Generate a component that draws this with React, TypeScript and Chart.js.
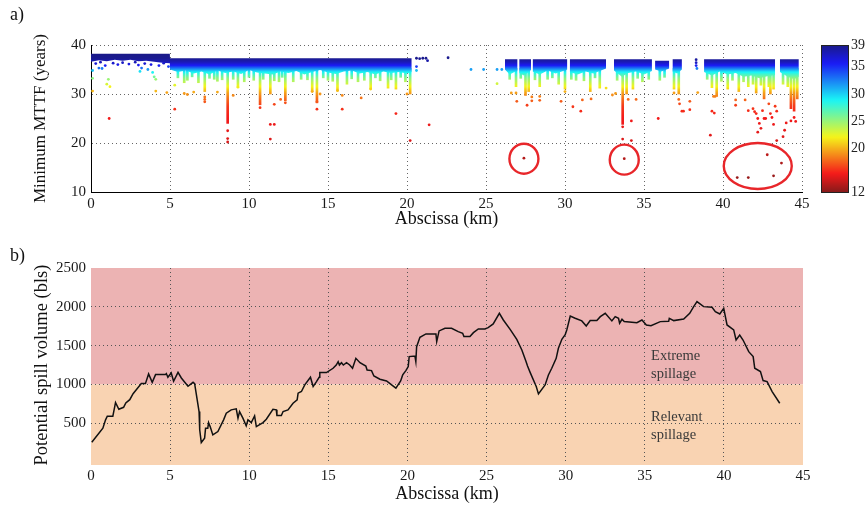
import React, { useEffect, useRef } from 'react';
import { Chart, registerables } from 'chart.js';

Chart.register(...registerables);

const FONT = '"Liberation Serif", "Times New Roman", serif';

// ---------- panel a) : minimum MTTF ----------
const kmTickStep = 5;
const mttfRange = [10, 40];
const colorMin = 12;
const colorMax = 39;
const colorbarTicks = [39, 35, 30, 25, 20, 12];
// colour transfer: MTTF value -> colour-bar value
const mttfAnchors = [38.5, 37.3, 36.5, 35.8, 35.2, 34.6, 34.0, 33.3, 32.5, 31.5, 30.3, 29, 27.5, 25, 21, 17, 12];
const colorAnchors = [39, 38.8, 37.5, 35.5, 32.5, 29.5, 27.5, 25.5, 24.0, 22.1, 19.6, 17.9, 16.3, 15.3, 14.7, 13.4, 12.3];

// dense band of points (upper envelope / lower edge of the dense cloud); null = gap
const bandX = [
  0, 0.5, 1, 1.5, 2, 2.5, 3, 3.5, 4, 4.5, 4.99,
  5, 5.5, 6, 6.5, 7, 7.5, 8, 8.5, 9, 9.5, 10, 10.5, 11, 11.5, 12, 12.5, 13, 13.5, 14, 14.5,
  15, 15.5, 16, 16.5, 17, 17.5, 18, 18.5, 19, 19.5, 20, 20.3, 20.35,
  26.2, 26.5, 26.8, 27.0, 27.05, 27.1, 27.4, 27.7, 27.85, 27.9, 27.95, 28.4, 28.9, 29.4, 29.8, 30.15, 30.2,
  30.3, 30.8, 31.3, 31.8, 32.2, 32.6, 32.8, 33.1, 33.6, 34.0, 34.5, 35.0, 35.5, 35.6,
  35.7, 36.1, 36.6, 36.7, 36.8, 37.1, 37.4, 38.0,
  38.8, 39.3, 39.8, 40.3, 40.8, 41.3, 41.8, 42.3, 42.8, 43.3, 43.45, 43.6, 44.1, 44.5, 44.8,
];
const bandTop = [
  38.2, 38.2, 38.2, 38.2, 38.2, 38.2, 38.2, 38.2, 38.2, 38.2, 38.2,
  37.3, 37.3, 37.3, 37.3, 37.3, 37.3, 37.3, 37.3, 37.3, 37.3, 37.3, 37.3, 37.3, 37.3, 37.3, 37.3, 37.3, 37.3, 37.3, 37.3,
  37.3, 37.3, 37.3, 37.3, 37.3, 37.3, 37.3, 37.3, 37.3, 37.3, 37.3, 37.3, null,
  37.1, 37.1, 37.1, 37.1, null, 37.1, 37.1, 37.1, 37.1, null, 37.1, 37.1, 37.1, 37.1, 37.1, 37.1, null,
  37.1, 37.1, 37.1, 37.1, 37.1, 37.1, null, 37.1, 37.1, 37.1, 37.1, 37.1, 37.1, null,
  36.8, 36.8, 36.8, null, 37.1, 37.1, 37.1, null,
  37.1, 37.1, 37.1, 37.1, 37.1, 37.1, 37.1, 37.1, 37.1, 37.1, null, 37.1, 37.1, 37.1, 37.1,
];
const bandLow = [
  36.6, 36.9, 36.7, 37.0, 36.8, 37.0, 36.7, 36.8, 36.6, 36.4, 36.3,
  35.0, 34.5, 34.8, 34.2, 34.6, 34.0, 34.8, 34.3, 34.6, 34.1, 34.9, 34.4, 34.2, 34.0, 34.6, 34.3, 34.7, 34.0, 34.5, 34.9,
  34.4, 34.1, 34.6, 34.8, 34.2, 34.5, 34.0, 34.6, 34.3, 34.5, 34.2, 34.5, null,
  35.0, 34.0, 34.5, 34.8, null, 34.3, 33.8, 34.5, 34.9, null, 34.6, 34.0, 34.8, 34.2, 34.6, 35.0, null,
  34.5, 34.0, 34.6, 34.2, 34.7, 35.2, null, 34.8, 33.5, 34.3, 34.6, 34.0, 34.7, null,
  35.0, 34.6, 35.2, null, 34.6, 34.2, 35.0, null,
  34.5, 33.8, 34.6, 34.0, 34.3, 33.5, 33.8, 33.2, 33.6, 33.9, null, 34.5, 33.5, 33.0, 33.5,
];

// vertical streaks of points below the dense band (x, lowest value)
const streakTopValue = 35.2;
const streakX = [
  5.9, 6.1, 6.8, 7.2, 7.8, 8.0, 8.65, 9.0, 9.3, 9.7, 10.3, 10.7, 11.35, 11.9, 12.3, 12.8, 13.3, 14.0, 14.3,
  15.0, 15.6, 16.2, 16.9, 17.7, 18.3, 18.8, 19.3, 19.9, 20.2,
  26.5, 26.9, 27.5, 27.7, 28.4, 28.9, 29.6, 30.0, 30.7, 31.6, 32.2, 33.65, 33.9, 34.3, 34.9, 36.0, 36.9, 37.2,
  39.3, 39.6, 40.3, 41.0, 41.6, 42.1, 42.6, 43.0, 44.3, 44.5, 44.7,
  5.5, 6.4, 7.5, 8.3, 10.0, 10.9, 11.6, 12.1, 13.7, 14.7, 15.3, 16.5, 17.3, 18.0, 19.0, 19.6,
  27.2, 28.1, 29.2, 30.4, 31.2, 31.9, 33.3, 34.6, 35.3, 36.3, 39.0, 39.9, 40.6, 41.3, 41.9, 42.4, 42.9, 43.2, 43.8, 44.1,
];
const streakLow = [
  32.3, 32.8, 32.3, 30.5, 33.0, 32.6, 24.0, 33.0, 31.5, 32.5, 32.8, 27.8, 30.0, 32.5, 28.6, 32.5, 33.0, 30.5, 28.2,
  32.8, 30.6, 32.0, 32.5, 31.0, 32.7, 31.2, 31.0, 32.5, 30.0,
  33.0, 31.5, 29.7, 30.5, 31.5, 33.0, 32.0, 31.0, 32.8, 30.5, 31.2, 23.8, 30.0, 31.0, 32.5, 32.8, 31.0, 30.0,
  31.3, 29.5, 31.0, 30.5, 31.5, 30.2, 29.0, 30.0, 27.0, 26.5, 29.0,
  33.3, 33.5, 33.2, 32.9, 33.4, 33.0, 32.7, 33.4, 32.9, 33.3, 32.6, 33.1, 32.8, 33.3, 32.9, 33.4,
  33.2, 32.9, 33.3, 33.0, 32.7, 33.3, 32.8, 33.2, 33.0, 33.4, 33.0, 32.6, 32.8, 32.5, 32.0, 31.8, 31.5, 31.0, 32.0, 31.5,
];

// isolated points
const pointX = [
  0.1, 0.1, 0.1, 0.5, 0.7, 1.0, 1.1, 1.2, 1.15, 3.1, 3.2, 3.6, 3.9, 4.0, 4.1, 4.1, 4.8,
  0.3, 0.6, 0.9, 1.4, 1.7, 2.0, 2.4, 2.8, 3.0, 3.4, 3.8, 4.3, 4.6, 4.9,
  5.3, 5.3, 5.9, 6.1, 6.5, 7.2, 7.2, 7.2, 8.0, 8.65, 8.65, 8.65, 9.0, 9.3, 10.7, 11.35, 11.6, 11.35, 11.6, 12.0, 12.3,
  14.0, 14.3, 14.3, 14.5, 15.6, 15.9, 15.9, 17.1, 17.7, 19.3, 20.0, 20.2,
  20.6, 20.8, 21.0, 21.2, 21.3, 20.6, 20.6, 21.4, 22.6, 24.05, 24.85, 25.7, 25.7, 26.0,
  26.6, 26.9, 26.95, 27.6, 27.9, 27.9, 28.4, 28.4, 29.75, 30.0, 30.5, 31.0, 31.1, 31.65, 32.6, 33.0, 33.2,
  33.65, 34.2, 34.2, 33.65, 27.4, 33.75,
  34.0, 34.5, 35.9, 36.9, 37.2, 37.25, 37.4, 37.5, 37.9, 37.9, 38.3, 38.3, 38.3, 38.35, 38.4,
  39.2, 39.3, 39.45, 39.4, 39.5, 40.8, 40.8, 41.4, 41.6, 41.9, 42.0, 42.1, 42.2, 42.3, 42.4, 42.2,
  42.5, 42.6, 42.7, 42.9, 43.0, 43.1, 43.2, 43.3, 43.4, 43.4, 43.8, 43.9, 44.0, 44.3, 44.5, 44.6,
  40.9, 41.6, 42.8, 43.2, 43.7,
];
const pointY = [
  34.8, 33.2, 30.6, 35.3, 35.2, 32.0, 33.0, 31.5, 25.0, 34.6, 35.3, 35.0, 34.4, 33.5, 33.0, 30.6, 30.3,
  36.2, 36.5, 35.8, 36.3, 36.0, 36.4, 36.1, 36.5, 35.9, 36.2, 36.0, 35.8, 36.3, 35.6,
  31.8, 26.9, 30.1, 29.9, 30.4, 29.4, 28.9, 28.4, 30.4, 22.5, 20.9, 20.2, 29.7, 31.4, 27.2, 23.8, 23.8, 20.8, 27.9, 28.9, 28.2,
  30.5, 28.4, 26.9, 30.0, 30.7, 29.7, 26.9, 29.2, 31.0, 26.0, 30.0, 20.5,
  37.3, 37.2, 37.3, 37.3, 36.8, 35.6, 34.8, 23.7, 37.4, 35.0, 35.0, 35.0, 32.1, 35.0,
  30.2, 30.2, 28.5, 27.7, 29.4, 28.6, 29.5, 28.7, 28.5, 30.5, 27.4, 26.5, 28.8, 29.0, 31.2, 29.8, 30.1,
  20.8, 20.5, 24.5, 23.3, 16.9, 16.8,
  28.9, 28.9, 25.0, 30.2, 28.9, 28.0, 26.5, 26.5, 28.5, 26.8, 37.0, 36.4, 35.8, 35.2, 30.3,
  21.6, 26.5, 26.1, 29.5, 29.5, 28.8, 27.7, 28.8, 26.6, 27.0, 26.4, 26.0, 25.0, 24.0, 23.0, 22.2,
  26.6, 25.0, 25.0, 28.0, 26.0, 25.2, 23.8, 27.5, 26.5, 20.5, 21.3, 22.6, 24.1, 24.5, 25.2, 24.4,
  12.95, 12.95, 17.6, 13.3, 15.9,
];

// highlighted outliers (data coords)
const circleX = [27.4, 33.75, 42.2];
const circleY = [16.8, 16.6, 15.3];
const circleRadiiPx = [[14.5, 15], [14.5, 15], [34, 23]];

// ---------- panel b) : potential spill volume ----------
const spillX = [
  0.05, 0.75, 0.92, 1.03, 1.38, 1.5, 1.55, 1.76, 2.06, 2.2, 2.45, 2.66, 3.18, 3.44, 3.64, 3.87, 4.08, 4.7, 4.76, 4.86,
  5.07, 5.22, 5.5, 5.71, 6.13, 6.45, 6.55, 6.83, 6.87, 6.97, 7.18, 7.24, 7.38, 7.43, 7.53, 7.7, 8.02, 8.38, 8.55, 8.86,
  9.18, 9.29, 9.39, 9.6, 9.81, 9.92, 10.13, 10.34, 10.45, 10.87, 11.08, 11.5, 11.71, 11.75, 12.03, 12.14, 12.45, 12.77,
  13.03, 13.09, 13.3, 13.51, 13.87, 14.04, 14.25, 14.42, 14.46, 14.88, 15.3, 15.5, 15.62, 15.7, 15.83, 15.95, 16.15,
  16.35, 16.53, 16.74, 17.0, 17.37, 17.45, 17.73, 17.88, 18.26, 18.68, 19.0, 19.27, 19.57, 19.7, 19.9, 20.05, 20.11,
  20.47, 20.53, 20.58, 20.79, 21.17, 21.8, 21.85, 22.0, 22.37, 22.79, 23.21, 23.49, 23.57, 23.95, 24.17, 24.48, 24.9,
  25.1, 25.42, 25.81, 26.06, 26.49, 26.91, 27.23, 27.5, 27.59, 27.76, 28.14, 28.28, 28.7, 28.91, 29.12, 29.4, 29.54,
  29.76, 29.97, 30.07, 30.29, 30.6, 31.02, 31.3, 31.55, 31.97, 32.19, 32.5, 32.92, 33.13, 33.34, 33.41, 33.56, 33.7,
  34.5, 34.82, 35.1, 35.39, 35.98, 36.51, 36.55, 36.83, 37.46, 37.84, 38.09, 38.3, 38.72, 39.25, 39.46, 39.74, 39.99,
  40.2, 40.62, 40.77, 41.0, 41.21, 41.57, 41.85, 41.95, 42.31, 42.48, 42.73, 43.05, 43.53,
];
const spillY = [
  255, 435, 543, 590, 590, 714, 767, 680, 705, 760, 803, 880, 1010, 1010, 1135, 1027, 1126, 1126, 1140, 1092,
  1147, 1040, 1155, 1083, 976, 1027, 1010, 650, 415, 251, 307, 435, 435, 508, 456, 349, 392, 543, 629, 672,
  685, 565, 650, 565, 466, 543, 508, 594, 456, 508, 551, 680, 672, 599, 599, 650, 672, 757,
  800, 887, 908, 994, 1092, 972, 1036, 1092, 1152, 1152, 1208, 1250, 1293, 1250, 1280, 1250, 1280,
  1250, 1208, 1336, 1280, 1237, 1186, 1178, 1109, 1066, 1045, 994, 951, 1045, 1122, 1178, 1229, 1358,
  1366, 1293, 1486, 1607, 1650, 1650, 1551, 1689, 1723, 1723, 1680, 1659, 1616, 1616, 1667, 1714, 1714,
  1732, 1779, 1916, 1830, 1710, 1581, 1443, 1293, 1237, 1152, 972, 878, 994, 1122, 1208, 1336, 1465,
  1581, 1640, 1702, 1882, 1852, 1818, 1753, 1822, 1822, 1873, 1916, 1818, 1873, 1852, 1788, 1839, 1809,
  1796, 1830, 1766, 1757, 1809, 1813, 1852, 1822, 1843, 1916, 2002, 2066, 2002, 1993, 1938, 1908, 1981,
  1766, 1702, 1572, 1637, 1572, 1422, 1358, 1208, 1165, 1049, 1036, 908, 757,
];
const spillRange = [0, 2500];
const spillTickStep = 500;
const spillThreshold = 1000;
const zoneLabelLines = [['Extreme', 'spillage'], ['Relevant', 'spillage']];
const zoneLabelX = 35.4;
const zoneLabelY = [1367, 581];

// ---------- helpers ----------
function jetOfColorValue(c: number): string {
  const u = Math.min(1, Math.max(0, (colorMax - c) / (colorMax - colorMin)));
  const f = (t: number) => Math.min(1, Math.max(0, 1.5 - Math.abs(4 * u - t)));
  const k = [f(3), f(2), f(1)].map((q) => Math.round(q * 255 * 0.86 + 26));
  return `rgb(${k[0]},${k[1]},${k[2]})`;
}

function mttfToColorValue(v: number): number {
  if (v >= mttfAnchors[0]) return colorAnchors[0];
  for (let i = 1; i < mttfAnchors.length; i++) {
    if (v >= mttfAnchors[i]) {
      const t = (v - mttfAnchors[i]) / (mttfAnchors[i - 1] - mttfAnchors[i]);
      return colorAnchors[i] + t * (colorAnchors[i - 1] - colorAnchors[i]);
    }
  }
  return colorAnchors[colorAnchors.length - 1];
}

function mttfColor(v: number): string {
  return jetOfColorValue(mttfToColorValue(v));
}

function mttfGradient(chart: any): any {
  const ys = chart.scales && chart.scales.y;
  if (!chart.chartArea || !ys) return mttfColor(36);
  const hi = mttfRange[1];
  const lo = mttfRange[0];
  const p0 = ys.getPixelForValue(hi);
  const p1 = ys.getPixelForValue(lo);
  if (!isFinite(p0) || !isFinite(p1) || p0 === p1) return mttfColor(36);
  const g = chart.ctx.createLinearGradient(0, p0, 0, p1);
  const n = 150;
  for (let i = 0; i <= n; i++) {
    const v = hi - (i / n) * (hi - lo);
    g.addColorStop(i / n, mttfColor(v));
  }
  return g;
}

const tickFont = { family: FONT, size: 15 };
const gridDots = [1, 3];

const colorbarPlugin = {
  id: 'colorbar',
  afterDraw(chart: any) {
    const { ctx, chartArea } = chart;
    const x0 = chartArea.right + 19;
    const w = 27;
    const top = chartArea.top;
    const bottom = chartArea.bottom;
    ctx.save();
    const g = ctx.createLinearGradient(0, top, 0, bottom);
    const n = 54;
    for (let i = 0; i <= n; i++) {
      g.addColorStop(i / n, jetOfColorValue(colorMax - (i / n) * (colorMax - colorMin)));
    }
    ctx.fillStyle = g;
    ctx.fillRect(x0, top, w, bottom - top);
    ctx.strokeStyle = '#222';
    ctx.lineWidth = 1;
    ctx.strokeRect(x0 + 0.5, top + 0.5, w, bottom - top);
    ctx.fillStyle = '#222';
    ctx.font = `14px ${FONT}`;
    ctx.textAlign = 'left';
    ctx.textBaseline = 'middle';
    colorbarTicks.forEach((v) => {
      const y = top + ((colorMax - v) / (colorMax - colorMin)) * (bottom - top);
      ctx.fillText(String(v), x0 + w + 3, y);
    });
    ctx.restore();
  },
};

const circlesPlugin = {
  id: 'circles',
  afterDatasetsDraw(chart: any) {
    const { ctx, scales } = chart;
    ctx.save();
    ctx.strokeStyle = '#e8262a';
    ctx.lineWidth = 2.4;
    circleX.forEach((x, i) => {
      ctx.beginPath();
      ctx.ellipse(
        scales.x.getPixelForValue(x),
        scales.y.getPixelForValue(circleY[i]),
        circleRadiiPx[i][0],
        circleRadiiPx[i][1],
        0, 0, Math.PI * 2,
      );
      ctx.stroke();
    });
    ctx.restore();
  },
};

const zonesPlugin = {
  id: 'zones',
  beforeDraw(chart: any) {
    const { ctx, chartArea, scales } = chart;
    const yT = scales.y.getPixelForValue(spillThreshold);
    ctx.save();
    ctx.fillStyle = '#ecb3b3';
    ctx.fillRect(chartArea.left, chartArea.top, chartArea.right - chartArea.left, yT - chartArea.top);
    ctx.fillStyle = '#f9d3b2';
    ctx.fillRect(chartArea.left, yT, chartArea.right - chartArea.left, chartArea.bottom + 3 - yT);
    ctx.restore();
  },
  afterDraw(chart: any) {
    const { ctx, scales } = chart;
    ctx.save();
    ctx.fillStyle = '#3a3a3a';
    ctx.font = `14.5px ${FONT}`;
    ctx.textAlign = 'left';
    ctx.textBaseline = 'middle';
    const x = scales.x.getPixelForValue(zoneLabelX);
    zoneLabelLines.forEach((lines, i) => {
      const y0 = scales.y.getPixelForValue(zoneLabelY[i]);
      lines.forEach((t, j) => ctx.fillText(t, x, y0 + j * 18.5));
    });
    ctx.restore();
  },
};

function xy(xs: number[], ys: (number | null)[]) {
  return xs.map((x, i) => ({ x, y: ys[i] }));
}

function topConfig(): any {
  return {
    type: 'scatter',
    data: {
      datasets: [
        {
          type: 'scatter',
          data: xy(pointX, pointY),
          backgroundColor: pointY.map((v) => mttfColor(v)),
          borderWidth: 0,
          pointRadius: 1.4,
        },
        {
          type: 'bar',
          data: streakX.map((x, i) => ({ x, y: [streakLow[i], streakTopValue] })),
          backgroundColor: (c: any) => mttfGradient(c.chart),
          borderWidth: 0,
          barThickness: 2,
        },
        {
          type: 'line',
          data: xy(bandX, bandTop),
          borderWidth: 0,
          borderColor: 'rgba(0,0,0,0)',
          pointRadius: 0,
          spanGaps: false,
          fill: false,
        },
        {
          type: 'line',
          data: xy(bandX, bandLow),
          borderWidth: 0,
          borderColor: 'rgba(0,0,0,0)',
          pointRadius: 0,
          spanGaps: false,
          fill: '-1',
          backgroundColor: (c: any) => mttfGradient(c.chart),
        },
      ],
    },
    options: {
      responsive: false,
      animation: false,
      events: [],
      layout: { autoPadding: false, padding: { left: 0, right: 64, top: 45, bottom: 0 } },
      plugins: { legend: { display: false }, tooltip: { enabled: false } },
      scales: {
        x: {
          type: 'linear',
          min: 0,
          max: 45,
          offset: false,
          ticks: { stepSize: kmTickStep, font: tickFont, color: '#1a1a1a', padding: 3, maxRotation: 0, autoSkip: false },
          grid: { color: '#666', lineWidth: 1, drawTicks: false, offset: false },
          border: { display: true, color: '#000', width: 1, dash: gridDots },
          title: { display: true, text: 'Abscissa (km)', font: { family: FONT, size: 18 }, color: '#111', padding: { top: 0, bottom: 6 } },
          afterFit: (s: any) => { s.height = 44; },
        },
        y: {
          type: 'linear',
          min: mttfRange[0],
          max: mttfRange[1],
          ticks: { stepSize: 10, font: tickFont, color: '#1a1a1a', padding: 5 },
          grid: { color: '#666', lineWidth: 1, drawTicks: false, offset: false },
          border: { display: true, color: '#000', width: 1, dash: gridDots },
          title: { display: true, text: 'Minimum MTTF (years)', font: { family: FONT, size: 17 }, color: '#111', padding: { top: 30, bottom: 0 } },
          afterFit: (s: any) => { s.width = 91; },
        },
      },
    },
    plugins: [colorbarPlugin, circlesPlugin],
  };
}

function bottomConfig(): any {
  return {
    type: 'line',
    data: {
      datasets: [
        {
          data: xy(spillX, spillY),
          borderColor: '#111',
          borderWidth: 1.5,
          pointRadius: 0,
          tension: 0,
          fill: false,
        },
      ],
    },
    options: {
      responsive: false,
      animation: false,
      events: [],
      layout: { autoPadding: false, padding: { left: 0, right: 63, top: 28, bottom: 0 } },
      plugins: { legend: { display: false }, tooltip: { enabled: false } },
      scales: {
        x: {
          type: 'linear',
          min: 0,
          max: 45,
          offset: false,
          ticks: { stepSize: kmTickStep, font: tickFont, color: '#1a1a1a', padding: 5, maxRotation: 0, autoSkip: false },
          grid: {
            color: (c: any) => (c.tick && (c.tick.value === 0 || c.tick.value === 45) ? 'rgba(0,0,0,0)' : '#555'),
            lineWidth: 1,
            drawTicks: false,
          },
          border: { display: false, dash: gridDots },
          title: { display: true, text: 'Abscissa (km)', font: { family: FONT, size: 18 }, color: '#111', padding: { top: 0, bottom: 3 } },
          afterFit: (s: any) => { s.height = 46; },
        },
        y: {
          type: 'linear',
          min: spillRange[0],
          max: spillRange[1],
          ticks: {
            stepSize: spillTickStep,
            font: tickFont,
            color: '#1a1a1a',
            padding: 5,
            callback: (v: any) => (v === 0 ? '' : String(v)),
          },
          grid: {
            color: (c: any) => (c.tick && (c.tick.value === 0 || c.tick.value === 2500) ? 'rgba(0,0,0,0)' : '#555'),
            lineWidth: 1,
            drawTicks: false,
          },
          border: { display: false, dash: gridDots },
          title: { display: true, text: 'Potential spill volume (bls)', font: { family: FONT, size: 18.5 }, color: '#111', padding: { top: 31, bottom: 0 } },
          afterFit: (s: any) => { s.width = 91; },
        },
      },
    },
    plugins: [zonesPlugin],
  };
}

export default function App() {
  const topRef = useRef<HTMLCanvasElement>(null);
  const botRef = useRef<HTMLCanvasElement>(null);

  useEffect(() => {
    const c1 = new Chart(topRef.current as HTMLCanvasElement, topConfig());
    const c2 = new Chart(botRef.current as HTMLCanvasElement, bottomConfig());
    return () => {
      c1.destroy();
      c2.destroy();
    };
  }, []);

  const label: React.CSSProperties = {
    position: 'absolute',
    left: 10,
    fontFamily: FONT,
    fontSize: 18,
    lineHeight: '18px',
    color: '#111',
  };

  return (
    <div style={{ position: 'fixed', left: 0, top: 0, width: 866, height: 508, background: '#fff', overflow: 'hidden' }}>
      <canvas ref={topRef} width={866} height={236} style={{ position: 'absolute', left: 0, top: 0, width: 866, height: 236 }} />
      <canvas ref={botRef} width={866} height={268} style={{ position: 'absolute', left: 0, top: 240, width: 866, height: 268 }} />
      <div style={{ ...label, top: 5 }}>a)</div>
      <div style={{ ...label, top: 246 }}>b)</div>
    </div>
  );
}
